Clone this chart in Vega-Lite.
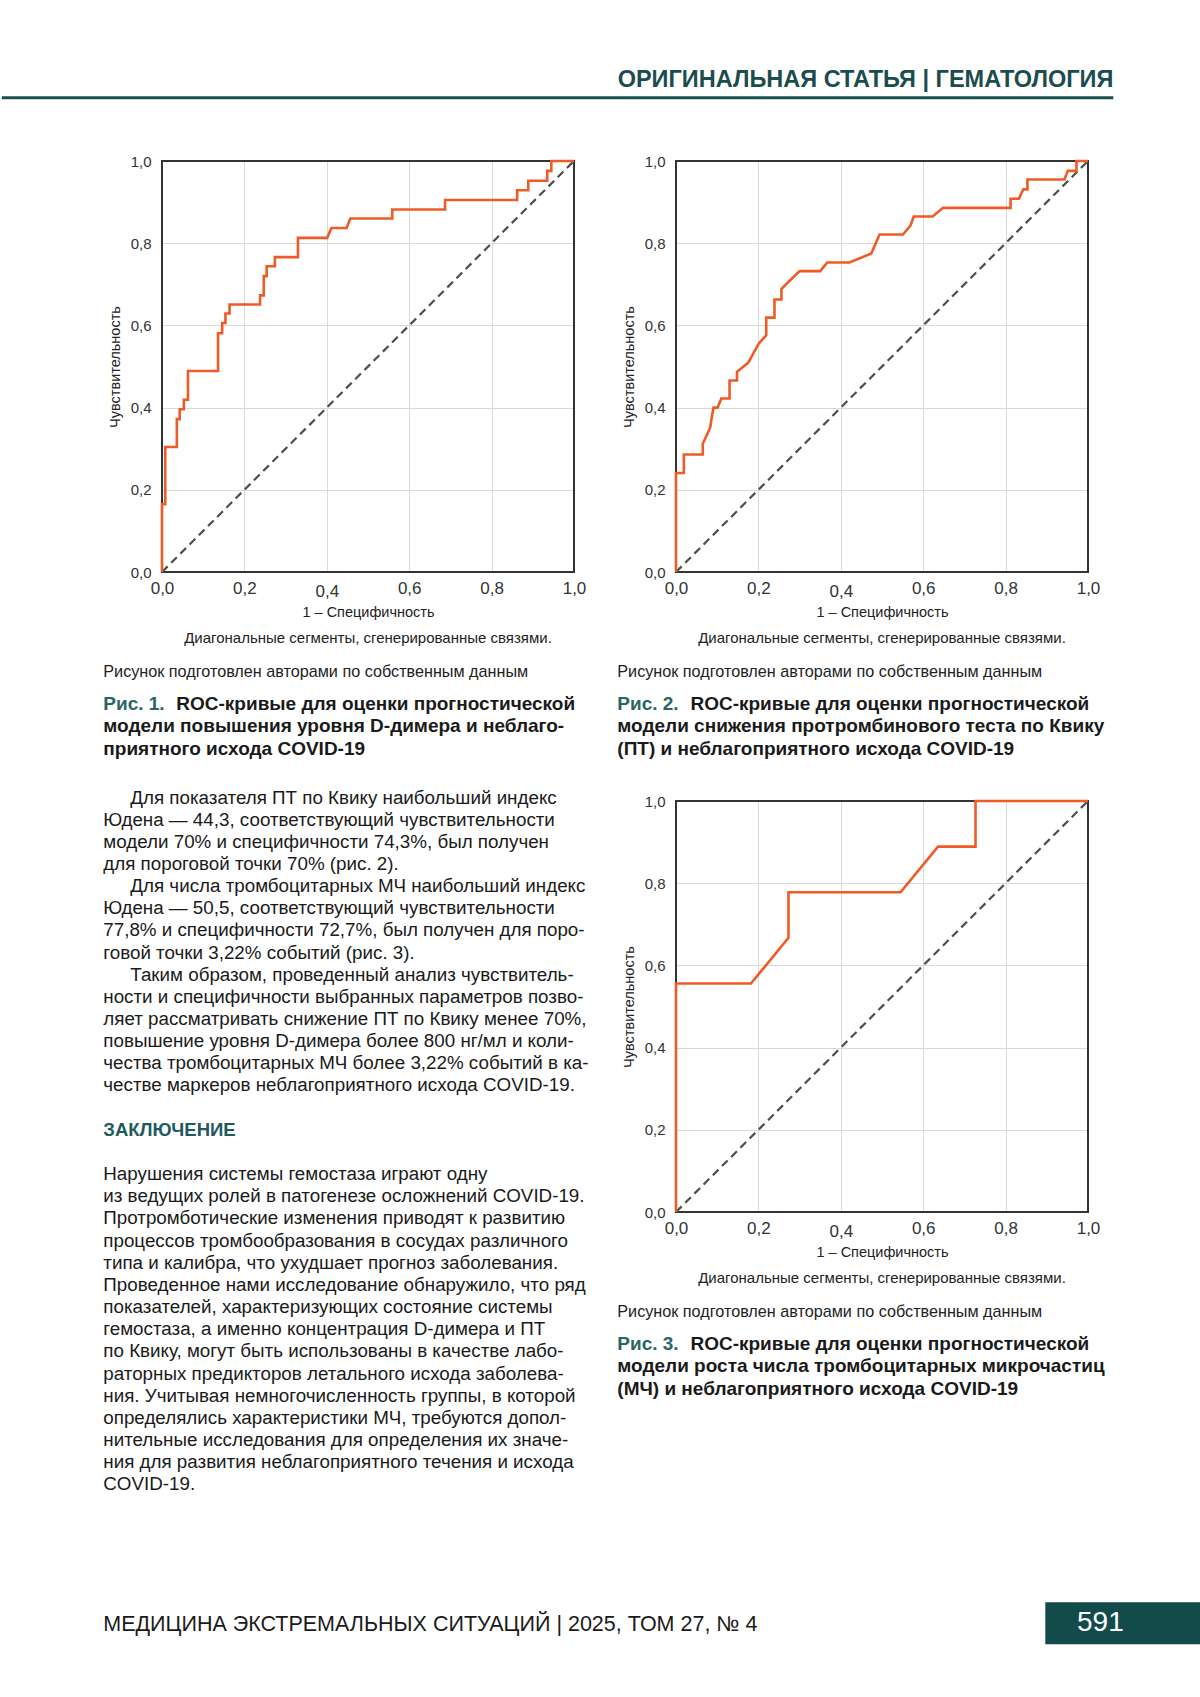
{
  "$schema": "https://vega.github.io/schema/vega-lite/v6.json",
  "background": "white",
  "padding": 0,
  "bounds": "flush",
  "spacing": 102,
  "config": {
    "view": {"stroke": null},
    "text": {"font": "Liberation Sans"},
    "axis": {
      "labelFont": "Liberation Sans", "labelFontSize": 15.5, "labelColor": "#333333",
      "titleFont": "Liberation Sans", "titleFontSize": 14.5, "titleFontWeight": "normal", "titleColor": "#222222",
      "domain": false, "ticks": false, "gridColor": "#d9d9d9", "gridWidth": 1, "labelFlush": false
    },
    "axisX": {"labelFontSize": 17},
    "axisY": {"labelFontSize": 15}
  },
  "hconcat": [
    {
      "width": 412, "height": 411,
      "layer": [
        {"data": {"values": [{"s": "page"}]}, "mark": {"type": "rect", "fill": "white", "opacity": 0},
         "encoding": {"x": {"datum": -0.39248, "type": "quantitative", "scale": {"domain": [0, 1]}}, "x2": {"datum": 2.52015},
                      "y": {"datum": 1.391, "type": "quantitative", "scale": {"domain": [0, 1]}}, "y2": {"datum": -2.73796}}},
        {"data": {"values": [{"s": "frame"}]}, "mark": {"type": "rect", "fill": null, "stroke": "#333333", "strokeWidth": 2},
         "encoding": {"x": {"datum": 0, "type": "quantitative", "scale": {"domain": [0, 1]}}, "x2": {"datum": 1},
                      "y": {"datum": 0, "type": "quantitative", "scale": {"domain": [0, 1]}}, "y2": {"datum": 1}}},
        {"data": {"values": [{"fpr": 0, "tpr": 0}, {"fpr": 1, "tpr": 1}]},
         "mark": {"type": "line", "color": "#4d4d4d", "strokeWidth": 2.2, "strokeDash": [8, 5]},
         "encoding": {"x": {"field": "fpr", "type": "quantitative", "scale": {"domain": [0, 1]}, "title": "1 – Специфичность"},
                      "y": {"field": "tpr", "type": "quantitative", "scale": {"domain": [0, 1]}, "title": "Чувствительность"}}},
        {"data": {"values": [
          {"i": 0, "fpr": 0, "tpr": 0}, {"i": 1, "fpr": 0, "tpr": 0.165}, {"i": 2, "fpr": 0.008, "tpr": 0.165}, {"i": 3, "fpr": 0.008, "tpr": 0.304},
          {"i": 4, "fpr": 0.036, "tpr": 0.304}, {"i": 5, "fpr": 0.036, "tpr": 0.372}, {"i": 6, "fpr": 0.043, "tpr": 0.372}, {"i": 7, "fpr": 0.043, "tpr": 0.396},
          {"i": 8, "fpr": 0.053, "tpr": 0.396}, {"i": 9, "fpr": 0.053, "tpr": 0.419}, {"i": 10, "fpr": 0.063, "tpr": 0.419}, {"i": 11, "fpr": 0.063, "tpr": 0.489},
          {"i": 12, "fpr": 0.136, "tpr": 0.489}, {"i": 13, "fpr": 0.136, "tpr": 0.581}, {"i": 14, "fpr": 0.146, "tpr": 0.581}, {"i": 15, "fpr": 0.146, "tpr": 0.606},
          {"i": 16, "fpr": 0.154, "tpr": 0.606}, {"i": 17, "fpr": 0.154, "tpr": 0.629}, {"i": 18, "fpr": 0.164, "tpr": 0.629}, {"i": 19, "fpr": 0.164, "tpr": 0.651},
          {"i": 20, "fpr": 0.238, "tpr": 0.651}, {"i": 21, "fpr": 0.238, "tpr": 0.673}, {"i": 22, "fpr": 0.247, "tpr": 0.673}, {"i": 23, "fpr": 0.247, "tpr": 0.72},
          {"i": 24, "fpr": 0.254, "tpr": 0.72}, {"i": 25, "fpr": 0.254, "tpr": 0.744}, {"i": 26, "fpr": 0.274, "tpr": 0.744}, {"i": 27, "fpr": 0.274, "tpr": 0.766},
          {"i": 28, "fpr": 0.33, "tpr": 0.766}, {"i": 29, "fpr": 0.33, "tpr": 0.813}, {"i": 30, "fpr": 0.401, "tpr": 0.813}, {"i": 31, "fpr": 0.411, "tpr": 0.837},
          {"i": 32, "fpr": 0.448, "tpr": 0.837}, {"i": 33, "fpr": 0.457, "tpr": 0.86}, {"i": 34, "fpr": 0.559, "tpr": 0.86}, {"i": 35, "fpr": 0.559, "tpr": 0.882},
          {"i": 36, "fpr": 0.687, "tpr": 0.882}, {"i": 37, "fpr": 0.687, "tpr": 0.905}, {"i": 38, "fpr": 0.862, "tpr": 0.905}, {"i": 39, "fpr": 0.862, "tpr": 0.929},
          {"i": 40, "fpr": 0.889, "tpr": 0.929}, {"i": 41, "fpr": 0.889, "tpr": 0.952}, {"i": 42, "fpr": 0.935, "tpr": 0.952}, {"i": 43, "fpr": 0.935, "tpr": 0.976},
          {"i": 44, "fpr": 0.945, "tpr": 0.976}, {"i": 45, "fpr": 0.945, "tpr": 1.0}, {"i": 46, "fpr": 1.0, "tpr": 1.0}]},
         "mark": {"type": "line", "color": "#ef5b26", "strokeWidth": 2.6},
         "encoding": {
           "x": {"field": "fpr", "type": "quantitative", "scale": {"domain": [0, 1]},
                 "axis": {"title": "1 – Специфичность", "values": [0, 0.2, 0.4, 0.6, 0.8, 1], "labelExpr": "replace(format(datum.value, '.1f'), '.', ',')",
                          "labelPadding": {"condition": {"test": "abs(datum.value - 0.4) < 0.01", "value": 11}, "value": 8}, "titlePadding": 6, "grid": true}},
           "y": {"field": "tpr", "type": "quantitative", "scale": {"domain": [0, 1]},
                 "axis": {"title": "Чувствительность", "values": [0, 0.2, 0.4, 0.6, 0.8, 1], "labelExpr": "replace(format(datum.value, '.1f'), '.', ',')", "labelPadding": 11, "titlePadding": 8, "grid": true}},
           "order": {"field": "i"}}},
        {"data": {"values": [{"t": "Диагональные сегменты, сгенерированные связями."}]},
         "mark": {"type": "text", "fontSize": 15, "color": "#222222", "align": "center", "baseline": "middle"},
         "encoding": {"x": {"datum": 0.5, "type": "quantitative", "scale": {"domain": [0, 1]}},
                      "y": {"datum": -0.1613, "type": "quantitative", "scale": {"domain": [0, 1]}}, "text": {"field": "t"}}},
        {"data": {"values": [{"t": "Рисунок подготовлен авторами по собственным данным"}]},
         "mark": {"type": "text", "fontSize": 16.2, "color": "#222222", "align": "left", "baseline": "middle"},
         "encoding": {"x": {"datum": -0.14248, "type": "quantitative", "scale": {"domain": [0, 1]}},
                      "y": {"datum": -0.244, "type": "quantitative", "scale": {"domain": [0, 1]}}, "text": {"field": "t"}}},
        {"data": {"values": [{"t": "Рис. 1."}]},
         "mark": {"type": "text", "fontSize": 19, "fontWeight": "bold", "color": "#2a6566", "align": "left", "baseline": "middle"},
         "encoding": {"x": {"datum": -0.14248, "type": "quantitative", "scale": {"domain": [0, 1]}},
                      "y": {"datum": -0.3202, "type": "quantitative", "scale": {"domain": [0, 1]}}, "text": {"field": "t"}}},
        {"data": {"values": [{"t": "ROC-кривые для оценки прогностической"}]},
         "mark": {"type": "text", "fontSize": 19, "fontWeight": "bold", "color": "#1a1a1a", "align": "left", "baseline": "middle"},
         "encoding": {"x": {"datum": 0.0347, "type": "quantitative", "scale": {"domain": [0, 1]}},
                      "y": {"datum": -0.3202, "type": "quantitative", "scale": {"domain": [0, 1]}}, "text": {"field": "t"}}},
        {"data": {"values": [{"t": ["модели повышения уровня D-димера и неблаго-", "приятного исхода COVID-19"]}]},
         "mark": {"type": "text", "fontSize": 19, "fontWeight": "bold", "color": "#1a1a1a", "align": "left", "baseline": "line-top", "lineHeight": 22.7},
         "encoding": {"x": {"datum": -0.14248, "type": "quantitative", "scale": {"domain": [0, 1]}},
                      "y": {"datum": -0.349, "type": "quantitative", "scale": {"domain": [0, 1]}}, "text": {"field": "t"}}},
        {"data": {"values": [{"t": "Для показателя ПТ по Квику наибольший индекс"}]},
         "mark": {"type": "text", "fontSize": 18.8, "color": "#1a1a1a", "align": "left", "baseline": "line-top", "lineHeight": 22.15},
         "encoding": {"x": {"datum": -0.07694, "type": "quantitative", "scale": {"domain": [0, 1]}},
                      "y": {"datum": -0.52196, "type": "quantitative", "scale": {"domain": [0, 1]}}, "text": {"field": "t"}}},
        {"data": {"values": [{"t": [
          "Юдена — 44,3, соответствующий чувствительности",
          "модели 70% и специфичности 74,3%, был получен",
          "для пороговой точки 70% (рис. 2)."]}]},
         "mark": {"type": "text", "fontSize": 18.8, "color": "#1a1a1a", "align": "left", "baseline": "line-top", "lineHeight": 22.15},
         "encoding": {"x": {"datum": -0.14248, "type": "quantitative", "scale": {"domain": [0, 1]}},
                      "y": {"datum": -0.57585, "type": "quantitative", "scale": {"domain": [0, 1]}}, "text": {"field": "t"}}},
        {"data": {"values": [{"t": "Для числа тромбоцитарных МЧ наибольший индекс"}]},
         "mark": {"type": "text", "fontSize": 18.8, "color": "#1a1a1a", "align": "left", "baseline": "line-top", "lineHeight": 22.15},
         "encoding": {"x": {"datum": -0.07694, "type": "quantitative", "scale": {"domain": [0, 1]}},
                      "y": {"datum": -0.73753, "type": "quantitative", "scale": {"domain": [0, 1]}}, "text": {"field": "t"}}},
        {"data": {"values": [{"t": [
          "Юдена — 50,5, соответствующий чувствительности",
          "77,8% и специфичности 72,7%, был получен для поро-",
          "говой точки 3,22% событий (рис. 3)."]}]},
         "mark": {"type": "text", "fontSize": 18.8, "color": "#1a1a1a", "align": "left", "baseline": "line-top", "lineHeight": 22.15},
         "encoding": {"x": {"datum": -0.14248, "type": "quantitative", "scale": {"domain": [0, 1]}},
                      "y": {"datum": -0.79142, "type": "quantitative", "scale": {"domain": [0, 1]}}, "text": {"field": "t"}}},
        {"data": {"values": [{"t": "Таким образом, проведенный анализ чувствитель-"}]},
         "mark": {"type": "text", "fontSize": 18.8, "color": "#1a1a1a", "align": "left", "baseline": "line-top", "lineHeight": 22.15},
         "encoding": {"x": {"datum": -0.07694, "type": "quantitative", "scale": {"domain": [0, 1]}},
                      "y": {"datum": -0.9531, "type": "quantitative", "scale": {"domain": [0, 1]}}, "text": {"field": "t"}}},
        {"data": {"values": [{"t": [
          "ности и специфичности выбранных параметров позво-",
          "ляет рассматривать снижение ПТ по Квику менее 70%,",
          "повышение уровня D-димера более 800 нг/мл и коли-",
          "чества тромбоцитарных МЧ более 3,22% событий в ка-",
          "честве маркеров неблагоприятного исхода COVID-19."]}]},
         "mark": {"type": "text", "fontSize": 18.8, "color": "#1a1a1a", "align": "left", "baseline": "line-top", "lineHeight": 22.15},
         "encoding": {"x": {"datum": -0.14248, "type": "quantitative", "scale": {"domain": [0, 1]}},
                      "y": {"datum": -1.00699, "type": "quantitative", "scale": {"domain": [0, 1]}}, "text": {"field": "t"}}},
        {"data": {"values": [{"t": "ЗАКЛЮЧЕНИЕ"}]},
         "mark": {"type": "text", "fontSize": 18.5, "fontWeight": "bold", "color": "#1f5b5c", "align": "left", "baseline": "middle"},
         "encoding": {"x": {"datum": -0.14248, "type": "quantitative", "scale": {"domain": [0, 1]}},
                      "y": {"datum": -1.35718, "type": "quantitative", "scale": {"domain": [0, 1]}}, "text": {"field": "t"}}},
        {"data": {"values": [{"t": [
          "Нарушения системы гемостаза играют одну",
          "из ведущих ролей в патогенезе осложнений COVID-19.",
          "Протромботические изменения приводят к развитию",
          "процессов тромбообразования в сосудах различного",
          "типа и калибра, что ухудшает прогноз заболевания.",
          "Проведенное нами исследование обнаружило, что ряд",
          "показателей, характеризующих состояние системы",
          "гемостаза, а именно концентрация D-димера и ПТ",
          "по Квику, могут быть использованы в качестве лабо-",
          "раторных предикторов летального исхода заболева-",
          "ния. Учитывая немногочисленность группы, в которой",
          "определялись характеристики МЧ, требуются допол-",
          "нительные исследования для определения их значе-",
          "ния для развития неблагоприятного течения и исхода",
          "COVID-19."]}]},
         "mark": {"type": "text", "fontSize": 18.8, "color": "#1a1a1a", "align": "left", "baseline": "line-top", "lineHeight": 22.15},
         "encoding": {"x": {"datum": -0.14248, "type": "quantitative", "scale": {"domain": [0, 1]}},
                      "y": {"datum": -1.43845, "type": "quantitative", "scale": {"domain": [0, 1]}}, "text": {"field": "t"}}},
        {"data": {"values": [{"s": "header"}]},
         "mark": {"type": "rule", "color": "#1b4d4f", "strokeWidth": 3},
         "encoding": {"x": {"datum": -0.38883, "type": "quantitative", "scale": {"domain": [0, 1]}}, "x2": {"datum": 2.30898},
                      "y": {"datum": 1.15377, "type": "quantitative", "scale": {"domain": [0, 1]}}}},
        {"data": {"values": [{"t": "ОРИГИНАЛЬНАЯ СТАТЬЯ | ГЕМАТОЛОГИЯ"}]},
         "mark": {"type": "text", "fontSize": 23.5, "fontWeight": "bold", "color": "#1b4d4f", "align": "right", "baseline": "middle"},
         "encoding": {"x": {"datum": 2.30898, "type": "quantitative", "scale": {"domain": [0, 1]}},
                      "y": {"datum": 1.19635, "type": "quantitative", "scale": {"domain": [0, 1]}}, "text": {"field": "t"}}},
        {"data": {"values": [{"t": "МЕДИЦИНА ЭКСТРЕМАЛЬНЫХ СИТУАЦИЙ | 2025, ТОМ 27, № 4"}]},
         "mark": {"type": "text", "fontSize": 21.5, "color": "#1a1a1a", "align": "left", "baseline": "middle"},
         "encoding": {"x": {"datum": -0.14248, "type": "quantitative", "scale": {"domain": [0, 1]}},
                      "y": {"datum": -2.56278, "type": "quantitative", "scale": {"domain": [0, 1]}}, "text": {"field": "t"}}}
      ]
    },
    {
      "spacing": 229,
      "bounds": "flush",
      "vconcat": [
        {
          "width": 412, "height": 411,
          "layer": [
            {"data": {"values": [{"s": "frame"}]}, "mark": {"type": "rect", "fill": null, "stroke": "#333333", "strokeWidth": 2},
             "encoding": {"x": {"datum": 0, "type": "quantitative", "scale": {"domain": [0, 1]}}, "x2": {"datum": 1},
                          "y": {"datum": 0, "type": "quantitative", "scale": {"domain": [0, 1]}}, "y2": {"datum": 1}}},
            {"data": {"values": [{"fpr": 0, "tpr": 0}, {"fpr": 1, "tpr": 1}]},
             "mark": {"type": "line", "color": "#4d4d4d", "strokeWidth": 2.2, "strokeDash": [8, 5]},
             "encoding": {"x": {"field": "fpr", "type": "quantitative", "scale": {"domain": [0, 1]}, "title": "1 – Специфичность"},
                          "y": {"field": "tpr", "type": "quantitative", "scale": {"domain": [0, 1]}, "title": "Чувствительность"}}},
            {"data": {"values": [
              {"i": 0, "fpr": 0, "tpr": 0}, {"i": 1, "fpr": 0, "tpr": 0.241}, {"i": 2, "fpr": 0.019, "tpr": 0.241}, {"i": 3, "fpr": 0.019, "tpr": 0.286},
              {"i": 4, "fpr": 0.065, "tpr": 0.286}, {"i": 5, "fpr": 0.065, "tpr": 0.312}, {"i": 6, "fpr": 0.083, "tpr": 0.351}, {"i": 7, "fpr": 0.087, "tpr": 0.377},
              {"i": 8, "fpr": 0.091, "tpr": 0.4}, {"i": 9, "fpr": 0.101, "tpr": 0.4}, {"i": 10, "fpr": 0.11, "tpr": 0.422}, {"i": 11, "fpr": 0.13, "tpr": 0.422},
              {"i": 12, "fpr": 0.13, "tpr": 0.466}, {"i": 13, "fpr": 0.148, "tpr": 0.466}, {"i": 14, "fpr": 0.148, "tpr": 0.487}, {"i": 15, "fpr": 0.175, "tpr": 0.509},
              {"i": 16, "fpr": 0.201, "tpr": 0.556}, {"i": 17, "fpr": 0.219, "tpr": 0.576}, {"i": 18, "fpr": 0.219, "tpr": 0.619}, {"i": 19, "fpr": 0.239, "tpr": 0.619},
              {"i": 20, "fpr": 0.239, "tpr": 0.663}, {"i": 21, "fpr": 0.256, "tpr": 0.663}, {"i": 22, "fpr": 0.256, "tpr": 0.689}, {"i": 23, "fpr": 0.3, "tpr": 0.732},
              {"i": 24, "fpr": 0.35, "tpr": 0.732}, {"i": 25, "fpr": 0.367, "tpr": 0.753}, {"i": 26, "fpr": 0.421, "tpr": 0.753}, {"i": 27, "fpr": 0.474, "tpr": 0.775},
              {"i": 28, "fpr": 0.494, "tpr": 0.821}, {"i": 29, "fpr": 0.551, "tpr": 0.821}, {"i": 30, "fpr": 0.569, "tpr": 0.843}, {"i": 31, "fpr": 0.577, "tpr": 0.865},
              {"i": 32, "fpr": 0.623, "tpr": 0.865}, {"i": 33, "fpr": 0.648, "tpr": 0.886}, {"i": 34, "fpr": 0.812, "tpr": 0.886}, {"i": 35, "fpr": 0.812, "tpr": 0.908},
              {"i": 36, "fpr": 0.832, "tpr": 0.908}, {"i": 37, "fpr": 0.843, "tpr": 0.931}, {"i": 38, "fpr": 0.853, "tpr": 0.931}, {"i": 39, "fpr": 0.853, "tpr": 0.955},
              {"i": 40, "fpr": 0.943, "tpr": 0.955}, {"i": 41, "fpr": 0.951, "tpr": 0.976}, {"i": 42, "fpr": 0.972, "tpr": 0.976}, {"i": 43, "fpr": 0.972, "tpr": 1.0},
              {"i": 44, "fpr": 1.0, "tpr": 1.0}]},
             "mark": {"type": "line", "color": "#ef5b26", "strokeWidth": 2.6},
             "encoding": {
               "x": {"field": "fpr", "type": "quantitative", "scale": {"domain": [0, 1]},
                     "axis": {"title": "1 – Специфичность", "values": [0, 0.2, 0.4, 0.6, 0.8, 1], "labelExpr": "replace(format(datum.value, '.1f'), '.', ',')",
                              "labelPadding": {"condition": {"test": "abs(datum.value - 0.4) < 0.01", "value": 11}, "value": 8}, "titlePadding": 6, "grid": true}},
               "y": {"field": "tpr", "type": "quantitative", "scale": {"domain": [0, 1]},
                     "axis": {"title": "Чувствительность", "values": [0, 0.2, 0.4, 0.6, 0.8, 1], "labelExpr": "replace(format(datum.value, '.1f'), '.', ',')", "labelPadding": 11, "titlePadding": 8, "grid": true}},
               "order": {"field": "i"}}},
            {"data": {"values": [{"t": "Диагональные сегменты, сгенерированные связями."}]},
             "mark": {"type": "text", "fontSize": 15, "color": "#222222", "align": "center", "baseline": "middle"},
             "encoding": {"x": {"datum": 0.5, "type": "quantitative", "scale": {"domain": [0, 1]}},
                          "y": {"datum": -0.1613, "type": "quantitative", "scale": {"domain": [0, 1]}}, "text": {"field": "t"}}},
            {"data": {"values": [{"t": "Рисунок подготовлен авторами по собственным данным"}]},
             "mark": {"type": "text", "fontSize": 16.2, "color": "#222222", "align": "left", "baseline": "middle"},
             "encoding": {"x": {"datum": -0.14248, "type": "quantitative", "scale": {"domain": [0, 1]}},
                          "y": {"datum": -0.244, "type": "quantitative", "scale": {"domain": [0, 1]}}, "text": {"field": "t"}}},
            {"data": {"values": [{"t": "Рис. 2."}]},
             "mark": {"type": "text", "fontSize": 19, "fontWeight": "bold", "color": "#2a6566", "align": "left", "baseline": "middle"},
             "encoding": {"x": {"datum": -0.14248, "type": "quantitative", "scale": {"domain": [0, 1]}},
                          "y": {"datum": -0.3202, "type": "quantitative", "scale": {"domain": [0, 1]}}, "text": {"field": "t"}}},
            {"data": {"values": [{"t": "ROC-кривые для оценки прогностической"}]},
             "mark": {"type": "text", "fontSize": 19, "fontWeight": "bold", "color": "#1a1a1a", "align": "left", "baseline": "middle"},
             "encoding": {"x": {"datum": 0.035, "type": "quantitative", "scale": {"domain": [0, 1]}},
                          "y": {"datum": -0.3202, "type": "quantitative", "scale": {"domain": [0, 1]}}, "text": {"field": "t"}}},
            {"data": {"values": [{"t": ["модели снижения протромбинового теста по Квику", "(ПТ) и неблагоприятного исхода COVID-19"]}]},
             "mark": {"type": "text", "fontSize": 19, "fontWeight": "bold", "color": "#1a1a1a", "align": "left", "baseline": "line-top", "lineHeight": 22.7},
             "encoding": {"x": {"datum": -0.14248, "type": "quantitative", "scale": {"domain": [0, 1]}},
                          "y": {"datum": -0.349, "type": "quantitative", "scale": {"domain": [0, 1]}}, "text": {"field": "t"}}},
            {"data": {"values": [{"page": "591"}]}, "mark": {"type": "rect", "fill": "#134b4b"},
             "encoding": {"x": {"datum": 0.89636, "type": "quantitative", "scale": {"domain": [0, 1]}}, "x2": {"datum": 1.27257},
                          "y": {"datum": -2.50681, "type": "quantitative", "scale": {"domain": [0, 1]}}, "y2": {"datum": -2.609}}},
            {"data": {"values": [{"page": "591"}]},
             "mark": {"type": "text", "fontSize": 28, "color": "white", "align": "center", "baseline": "middle"},
             "encoding": {"x": {"datum": 1.03, "type": "quantitative", "scale": {"domain": [0, 1]}},
                          "y": {"datum": -2.55791, "type": "quantitative", "scale": {"domain": [0, 1]}}, "text": {"field": "page"}}}
          ]
        },
        {
          "width": 412, "height": 411,
          "layer": [
            {"data": {"values": [{"s": "frame"}]}, "mark": {"type": "rect", "fill": null, "stroke": "#333333", "strokeWidth": 2},
             "encoding": {"x": {"datum": 0, "type": "quantitative", "scale": {"domain": [0, 1]}}, "x2": {"datum": 1},
                          "y": {"datum": 0, "type": "quantitative", "scale": {"domain": [0, 1]}}, "y2": {"datum": 1}}},
            {"data": {"values": [{"fpr": 0, "tpr": 0}, {"fpr": 1, "tpr": 1}]},
             "mark": {"type": "line", "color": "#4d4d4d", "strokeWidth": 2.2, "strokeDash": [8, 5]},
             "encoding": {"x": {"field": "fpr", "type": "quantitative", "scale": {"domain": [0, 1]}, "title": "1 – Специфичность"},
                          "y": {"field": "tpr", "type": "quantitative", "scale": {"domain": [0, 1]}, "title": "Чувствительность"}}},
            {"data": {"values": [
              {"i": 0, "fpr": 0, "tpr": 0}, {"i": 1, "fpr": 0, "tpr": 0.556}, {"i": 2, "fpr": 0.182, "tpr": 0.556}, {"i": 3, "fpr": 0.273, "tpr": 0.667},
              {"i": 4, "fpr": 0.273, "tpr": 0.778}, {"i": 5, "fpr": 0.545, "tpr": 0.778}, {"i": 6, "fpr": 0.636, "tpr": 0.889}, {"i": 7, "fpr": 0.727, "tpr": 0.889},
              {"i": 8, "fpr": 0.727, "tpr": 1.0}, {"i": 9, "fpr": 1.0, "tpr": 1.0}]},
             "mark": {"type": "line", "color": "#ef5b26", "strokeWidth": 2.6},
             "encoding": {
               "x": {"field": "fpr", "type": "quantitative", "scale": {"domain": [0, 1]},
                     "axis": {"title": "1 – Специфичность", "values": [0, 0.2, 0.4, 0.6, 0.8, 1], "labelExpr": "replace(format(datum.value, '.1f'), '.', ',')",
                              "labelPadding": {"condition": {"test": "abs(datum.value - 0.4) < 0.01", "value": 11}, "value": 8}, "titlePadding": 6, "grid": true}},
               "y": {"field": "tpr", "type": "quantitative", "scale": {"domain": [0, 1]},
                     "axis": {"title": "Чувствительность", "values": [0, 0.2, 0.4, 0.6, 0.8, 1], "labelExpr": "replace(format(datum.value, '.1f'), '.', ',')", "labelPadding": 11, "titlePadding": 8, "grid": true}},
               "order": {"field": "i"}}},
            {"data": {"values": [{"t": "Диагональные сегменты, сгенерированные связями."}]},
             "mark": {"type": "text", "fontSize": 15, "color": "#222222", "align": "center", "baseline": "middle"},
             "encoding": {"x": {"datum": 0.5, "type": "quantitative", "scale": {"domain": [0, 1]}},
                          "y": {"datum": -0.1613, "type": "quantitative", "scale": {"domain": [0, 1]}}, "text": {"field": "t"}}},
            {"data": {"values": [{"t": "Рисунок подготовлен авторами по собственным данным"}]},
             "mark": {"type": "text", "fontSize": 16.2, "color": "#222222", "align": "left", "baseline": "middle"},
             "encoding": {"x": {"datum": -0.14248, "type": "quantitative", "scale": {"domain": [0, 1]}},
                          "y": {"datum": -0.244, "type": "quantitative", "scale": {"domain": [0, 1]}}, "text": {"field": "t"}}},
            {"data": {"values": [{"t": "Рис. 3."}]},
             "mark": {"type": "text", "fontSize": 19, "fontWeight": "bold", "color": "#2a6566", "align": "left", "baseline": "middle"},
             "encoding": {"x": {"datum": -0.14248, "type": "quantitative", "scale": {"domain": [0, 1]}},
                          "y": {"datum": -0.3202, "type": "quantitative", "scale": {"domain": [0, 1]}}, "text": {"field": "t"}}},
            {"data": {"values": [{"t": "ROC-кривые для оценки прогностической"}]},
             "mark": {"type": "text", "fontSize": 19, "fontWeight": "bold", "color": "#1a1a1a", "align": "left", "baseline": "middle"},
             "encoding": {"x": {"datum": 0.035, "type": "quantitative", "scale": {"domain": [0, 1]}},
                          "y": {"datum": -0.3202, "type": "quantitative", "scale": {"domain": [0, 1]}}, "text": {"field": "t"}}},
            {"data": {"values": [{"t": ["модели роста числа тромбоцитарных микрочастиц", "(МЧ) и неблагоприятного исхода COVID-19"]}]},
             "mark": {"type": "text", "fontSize": 19, "fontWeight": "bold", "color": "#1a1a1a", "align": "left", "baseline": "line-top", "lineHeight": 22.7},
             "encoding": {"x": {"datum": -0.14248, "type": "quantitative", "scale": {"domain": [0, 1]}},
                          "y": {"datum": -0.349, "type": "quantitative", "scale": {"domain": [0, 1]}}, "text": {"field": "t"}}}
          ]
        }
      ]
    }
  ]
}
